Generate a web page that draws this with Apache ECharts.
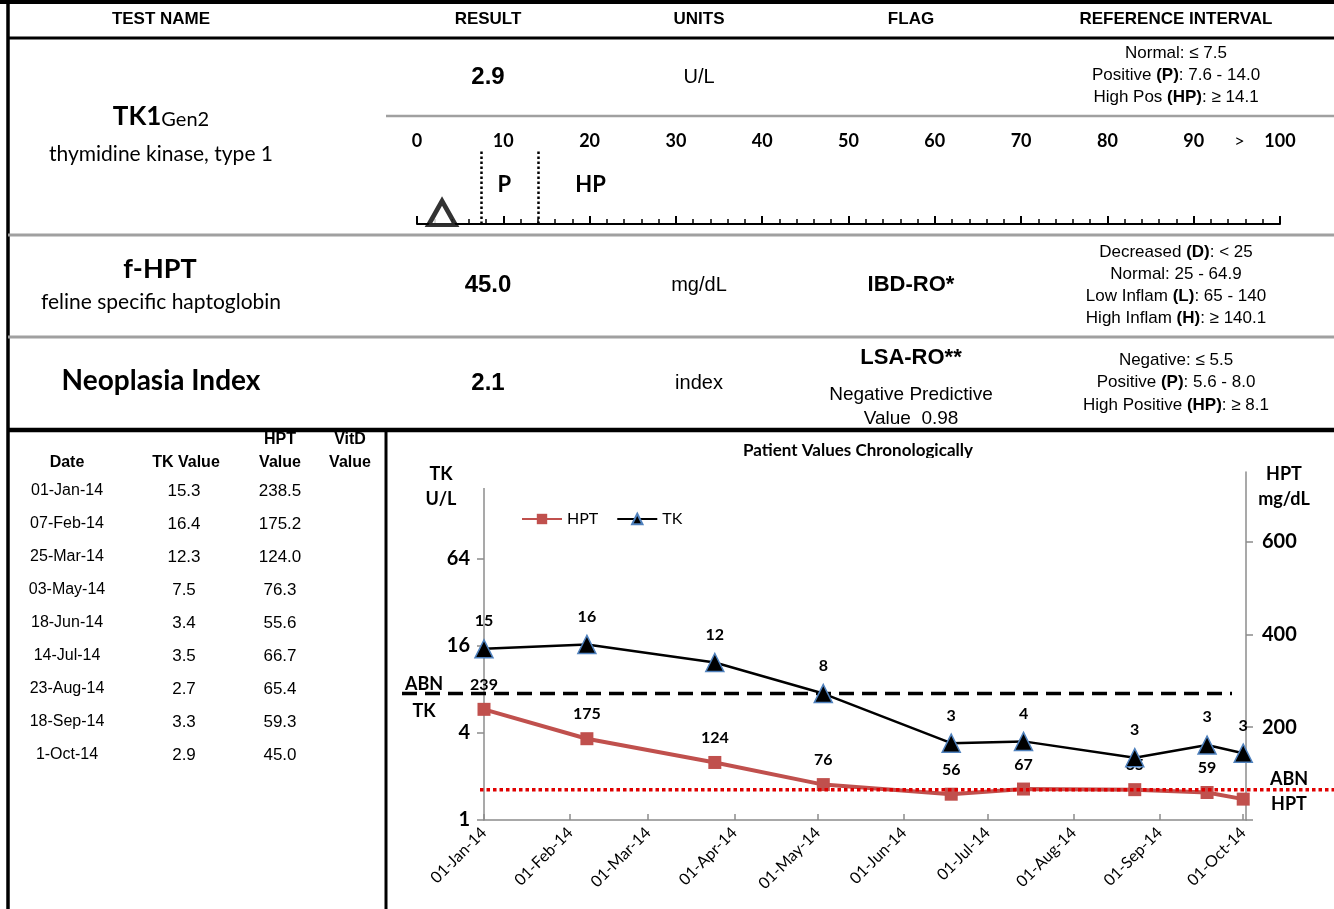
<!DOCTYPE html>
<html>
<head>
<meta charset="utf-8">
<script src="https://cdn.jsdelivr.net/npm/echarts@6/dist/echarts.min.js"></script>
<style>html,body{margin:0;padding:0;background:#fff}#c{width:1334px;height:909px}</style>
</head>
<body>
<div id="c"></div>
<script>
// ---------------- data ----------------
const dates = ['2014-01-01','2014-02-07','2014-03-25','2014-05-03','2014-06-18','2014-07-14','2014-08-23','2014-09-18','2014-10-01'];
const dateLabels = ['01-Jan-14','07-Feb-14','25-Mar-14','03-May-14','18-Jun-14','14-Jul-14','23-Aug-14','18-Sep-14','1-Oct-14'];
const tkValues = [15.3,16.4,12.3,7.5,3.4,3.5,2.7,3.3,2.9];
const hptValues = [238.5,175.2,124.0,76.3,55.6,66.7,65.4,59.3,45.0];
const monthTicks = ['2014-01-01','2014-02-01','2014-03-01','2014-04-01','2014-05-01','2014-06-01','2014-07-01','2014-08-01','2014-09-01','2014-10-01'];
const monthNames = ['Jan','Feb','Mar','Apr','May','Jun','Jul','Aug','Sep','Oct','Nov','Dec'];
const xRange = ['2014-01-01','2014-10-02'];
const tkAxisRange = [1,256];
const hptAxisRange = [0,750];
const hptTickValues = [0,200,400,600];
const hptLabelValues = [200,400,600];
const scaleRange = [0,100];
const tkCurrent = 2.9;
const tkThresholds = [7.5,14.0];
const zoneLabels = [{text:'P', at:10},{text:'HP', at:20}];
const abnTK = 7.5;
const abnHPT = 65;

const headers = ['TEST NAME','RESULT','UNITS','FLAG','REFERENCE INTERVAL'];
const refTK = ['{n|Normal: ≤ 7.5}','{n|Positive }{b|(P)}{n|: 7.6 - 14.0}','{n|High Pos }{b|(HP)}{n|: ≥ 14.1}'];
const refHPT = ['{n|Decreased }{b|(D)}{n|: < 25}','{n|Normal: 25 - 64.9}','{n|Low Inflam }{b|(L)}{n|: 65 - 140}','{n|High Inflam }{b|(H)}{n|: ≥ 140.1}'];
const refNI = ['{n|Negative: ≤ 5.5}','{n|Positive }{b|(P)}{n|: 5.6 - 8.0}','{n|High Positive }{b|(HP)}{n|: ≥ 8.1}'];

// ---------------- helpers ----------------
const SANS = 'Liberation Sans, Arial, sans-serif';
const CAL = 'Lato, Carlito, sans-serif';
function toTime(s){ const p = s.split('-').map(Number); return new Date(p[0], p[1]-1, p[2]).getTime(); }
function pad2(n){ return (n<10?'0':'')+n; }

const chart = echarts.init(document.getElementById('c'), null, {renderer:'canvas', width:1334, height:909});

const times = dates.map(toTime);
const hptData = hptValues.map((v,i) => i === hptValues.length-1 ? {value:[times[i], v], label:{show:false}} : [times[i], v]);
const tkData = tkValues.map((v,i) => [times[i], v]);
const monthTickTimes = monthTicks.map(toTime);

const option = {
  animation: false,
  textStyle: {fontFamily: CAL},
  grid: [
    {left: 417, top: 149, width: 863, height: 75},
    {left: 484, top: 472, right: 88, bottom: 89}
  ],
  xAxis: [
    {gridIndex:0, type:'value', position:'top', min:scaleRange[0], max:scaleRange[1], interval:10,
     axisLine:{show:false}, axisTick:{show:false}, splitLine:{show:false},
     axisLabel:{margin:-1, fontFamily:CAL, fontWeight:'bold', fontSize:18, color:'#000',
       formatter: v => v === 100 ? '{g|>}{b|100}{p| }' : String(v),
       rich:{
         g:{fontFamily:CAL, fontSize:18, fontWeight:'normal', color:'#000', width:30, align:'left', verticalAlign:'bottom', padding:[0,0,0,5]},
         b:{fontFamily:CAL, fontSize:18, fontWeight:'bold', color:'#000'},
         p:{fontFamily:CAL, fontSize:15, width:35}
       }}},
    {gridIndex:0, type:'value', position:'bottom', min:scaleRange[0], max:scaleRange[1], interval:10,
     axisLine:{lineStyle:{color:'#000', width:2}},
     axisTick:{inside:true, length:8, lineStyle:{color:'#000', width:2}},
     minorTick:{show:true, splitNumber:5, length:5, lineStyle:{color:'#000', width:1.5}},
     axisLabel:{show:false}, splitLine:{show:false}, minorSplitLine:{show:false}},
    {gridIndex:1, type:'value', min:toTime(xRange[0]), max:toTime(xRange[1]),
     axisLine:{lineStyle:{color:'#8c8c8c', width:1.5}},
     axisTick:{inside:true, length:6, customValues: monthTickTimes, lineStyle:{color:'#8c8c8c', width:1.5}},
     splitLine:{show:false},
     axisLabel:{customValues: monthTickTimes, rotate:45, margin:10, fontFamily:CAL, fontSize:16, color:'#000',
       formatter: v => { const d = new Date(v); return pad2(d.getDate())+'-'+monthNames[d.getMonth()]+'-'+String(d.getFullYear()).slice(2); }}}
  ],
  yAxis: [
    {gridIndex:1, type:'log', logBase:4, min:tkAxisRange[0], max:tkAxisRange[1], position:'left',
     axisLine:{show:true, lineStyle:{color:'#8c8c8c', width:1.5}},
     axisTick:{show:true, length:7, lineStyle:{color:'#8c8c8c', width:1.5}},
     splitLine:{show:false},
     axisLabel:{margin:14, fontFamily:CAL, fontWeight:'bold', fontSize:20, color:'#000', formatter: v => v >= 256 ? '' : String(v)}},
    {gridIndex:1, type:'value', min:hptAxisRange[0], max:hptAxisRange[1], position:'right',
     axisLine:{show:true, lineStyle:{color:'#8c8c8c', width:1.5}},
     axisTick:{show:true, length:7, customValues: hptTickValues, lineStyle:{color:'#8c8c8c', width:1.5}},
     splitLine:{show:false},
     axisLabel:{customValues: hptLabelValues, margin:16, fontFamily:CAL, fontWeight:'bold', fontSize:20, color:'#000'}},
    {gridIndex:0, type:'value', min:0, max:1, show:false}
  ],
  legend: {
    data:['HPT','TK'], left:516, top:506, itemWidth:40, itemHeight:13, itemGap:18,
    textStyle:{fontFamily:CAL, fontSize:16, color:'#000'}
  },
  series: [
    {name:'HPT', type:'line', xAxisIndex:2, yAxisIndex:1, data:hptData,
     symbol:'rect', symbolSize:13, z:3,
     itemStyle:{color:'#C0504D'}, lineStyle:{color:'#C0504D', width:4},
     label:{show:true, position:'top', distance:10, fontFamily:CAL, fontWeight:'bold', fontSize:16, color:'#000',
            formatter: p => String(Math.round(p.value[1]))},
     emphasis:{disabled:true}},
    {name:'TK', type:'line', xAxisIndex:2, yAxisIndex:0, data:tkData,
     symbol:'triangle', symbolSize:18, z:4,
     itemStyle:{color:'#000', borderColor:'#4F81BD', borderWidth:1.5}, lineStyle:{color:'#000', width:2.5},
     label:{show:true, position:'top', distance:10, fontFamily:CAL, fontWeight:'bold', fontSize:16, color:'#000',
            formatter: p => String(Math.round(p.value[1]))},
     emphasis:{disabled:true}},
    {name:'TKcurrent', type:'scatter', xAxisIndex:1, yAxisIndex:2, data:[[tkCurrent, 0]],
     symbol:'triangle', symbolSize:[27,24], symbolOffset:[0,-11], z:10, silent:true,
     itemStyle:{color:'#fff', borderColor:'#000', borderWidth:4.5},
     markLine:{silent:true, symbol:'none', label:{show:false},
       lineStyle:{type:'dotted', color:'#000', width:2.5},
       data: tkThresholds.map(t => ({xAxis:t}))}}
  ]
};
chart.setOption(option);

// ---------------- report table graphics ----------------
const els = [];
function txt(x, y, text, f, extra){
  els.push({type:'text', x:x, y:y, z:50, silent:true,
    style:Object.assign({text:text, fill:'#000', align:'center', verticalAlign:'middle'}, f, extra||{})});
}
function line(x1,y1,x2,y2,color,w,dash,z){
  els.push({type:'line', silent:true, z:z||40, shape:{x1,y1,x2,y2}, style:{stroke:color, lineWidth:w, lineDash:dash||null}});
}
function rect(x,y,w,h,z){ els.push({type:'rect', silent:true, z:z||60, shape:{x,y,width:w,height:h}, style:{fill:'#fff'}}); }
const F = (fam, size, weight) => ({fontFamily:fam, fontSize:size, fontWeight:weight||'normal'});
const refRich = {
  n:{fontFamily:SANS, fontSize:17, fontWeight:'normal', fill:'#000'},
  b:{fontFamily:SANS, fontSize:17, fontWeight:'bold', fill:'#000'}
};

// borders
line(0,2,1334,2,'#000',4);
line(8,0,8,909,'#000',3.5);
line(8,38,1334,38,'#000',3);
line(386,116,1334,116,'#a0a0a0',2.5);
line(8,235,1334,235,'#a0a0a0',3);
line(8,337,1334,337,'#a0a0a0',3);
line(8,430,1334,430,'#000',4.5);
line(386,430,386,909,'#000',3);

// header
const headerX = [161,488,699,911,1176];
headers.forEach((h,i) => txt(headerX[i], 19, h, F(SANS,17,'bold')));

// TK1 row
txt(161, 117, '{a|TK1}{g|Gen2}', {rich:{
  a:{fontFamily:CAL, fontSize:26, fontWeight:'bold', fill:'#000', verticalAlign:'bottom'},
  g:{fontFamily:CAL, fontSize:20, fontWeight:'normal', fill:'#000', verticalAlign:'bottom'}}});
txt(161, 154, 'thymidine kinase, type 1', F(CAL,21));
txt(488, 77, tkValues[tkValues.length-1].toFixed(1), F(SANS,24,'bold'));
txt(699, 77, 'U/L', F(SANS,20));
refTK.forEach((s,i) => txt(1176, 53+22*i, s, {rich:refRich}));

// f-HPT row
txt(160, 269, 'f-HPT', F(CAL,27,'bold'));
txt(161, 302, 'feline specific haptoglobin', F(CAL,21));
txt(488, 285, hptValues[hptValues.length-1].toFixed(1), F(SANS,24,'bold'));
txt(699, 285, 'mg/dL', F(SANS,20));
txt(911, 285, 'IBD-RO*', F(SANS,22,'bold'));
refHPT.forEach((s,i) => txt(1176, 252+22*i, s, {rich:refRich}));

// Neoplasia row
txt(161, 381, 'Neoplasia Index', F(CAL,28,'bold'));
txt(488, 383, '2.1', F(SANS,24,'bold'));
txt(699, 383, 'index', F(SANS,20));
txt(911, 358, 'LSA-RO**', F(SANS,22,'bold'));
txt(911, 395, 'Negative Predictive', F(SANS,19));
txt(911, 419, 'Value  0.98', F(SANS,19));
refNI.forEach((s,i) => txt(1176, 360+22.5*i, s, {rich:refRich}));

// chronological table
txt(67, 463, 'Date', F(SANS,16,'bold'));
txt(186, 463, 'TK Value', F(SANS,16,'bold'));
txt(280, 440, 'HPT', F(SANS,16,'bold'));
txt(280, 463, 'Value', F(SANS,16,'bold'));
txt(350, 440, 'VitD', F(SANS,16,'bold'));
txt(350, 463, 'Value', F(SANS,16,'bold'));
dateLabels.forEach((d,i) => {
  const y = 491 + 33*i;
  txt(67, y, d, F(SANS,16));
  txt(184, y, tkValues[i].toFixed(1), F(SANS,17));
  txt(280, y, hptValues[i].toFixed(1), F(SANS,17));
});

// chart titles
txt(858, 451, 'Patient Values Chronologically', F(CAL,17,'bold'));
rect(700, 458, 320, 10, 60);
txt(441, 474, 'TK', F(CAL,18,'bold'));
txt(441, 499, 'U/L', F(CAL,18,'bold'));
rect(476, 466, 16, 22, 60);
txt(1284, 474, 'HPT', F(CAL,18,'bold'));
txt(1284, 499, 'mg/dL', F(CAL,18,'bold'));

// abnormal thresholds through the axes
const yTK = chart.convertToPixel({yAxisIndex:0}, abnTK);
const yHPT = chart.convertToPixel({yAxisIndex:1}, abnHPT);
line(402, yTK, 1232, yTK, '#000', 3.5, [15,8], 1);
line(480, yHPT, 1334, yHPT, '#E00000', 3.5, [3.5,3], 10);
txt(424, yTK-9, 'ABN', F(CAL,18,'bold'));
txt(424, yTK+18, 'TK', F(CAL,18,'bold'));
txt(1289, yHPT-11, 'ABN', F(CAL,18,'bold'));
txt(1289, yHPT+14, 'HPT', F(CAL,18,'bold'));

// zone letters on TK1 scale
zoneLabels.forEach(z => txt(chart.convertToPixel({xAxisIndex:1}, z.at) + 1, 185, z.text, F(CAL,22,'bold')));

chart.setOption({graphic:{elements:els}});
</script>
</body>
</html>
